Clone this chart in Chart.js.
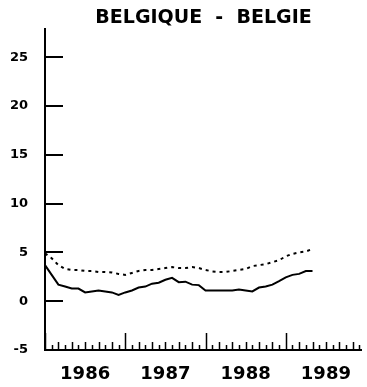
<!DOCTYPE html>
<html><head><meta charset="utf-8">
<script src="https://cdn.jsdelivr.net/npm/chart.js@4"></script>
<style>html,body{margin:0;padding:0;background:#fff}#wrap{width:367px;height:387px}</style>
</head><body><div id="wrap"><canvas id="c" width="367" height="387"></canvas></div>
<script>
const months = ['1986-01','1986-02','1986-03','1986-04','1986-05','1986-06','1986-07','1986-08','1986-09','1986-10','1986-11','1986-12',
'1987-01','1987-02','1987-03','1987-04','1987-05','1987-06','1987-07','1987-08','1987-09','1987-10','1987-11','1987-12',
'1988-01','1988-02','1988-03','1988-04','1988-05','1988-06','1988-07','1988-08','1988-09','1988-10','1988-11','1988-12',
'1989-01','1989-02','1989-03','1989-04','1989-05'];
const solidSeries = [3.7,2.7,1.7,1.5,1.3,1.3,0.9,1.0,1.1,1.0,0.9,0.65,0.9,1.1,1.4,1.5,1.8,1.9,2.2,2.4,1.95,2.0,1.7,1.65,1.1,1.1,1.1,1.1,1.1,1.2,1.1,1.0,1.4,1.5,1.7,2.05,2.45,2.7,2.8,3.1,3.1];
const dottedSeries = [4.9,4.4,3.7,3.3,3.2,3.2,3.1,3.1,3.0,3.0,2.95,2.8,2.7,2.9,3.1,3.2,3.2,3.3,3.4,3.5,3.4,3.4,3.5,3.4,3.2,3.06,3.0,3.0,3.1,3.2,3.3,3.6,3.7,3.8,4.0,4.2,4.6,4.85,5.0,5.1,5.35];
const yTicks = [-5,0,5,10,15,20,25];
const yearLabels = ['1986','1987','1988','1989'];
const titleText = 'BELGIQUE  -  BELGIE';

function toYear(s){ const p = s.split('-'); return +p[0] + (+p[1]-1)/12; }
const pts = arr => months.map((m,i)=>({x: toYear(m), y: arr[i]}));

const axisPlugin = {
  id: 'axesDraw',
  afterDatasetsDraw(chart){
    const {ctx, chartArea: a, scales: {x, y}} = chart;
    ctx.save();
    ctx.strokeStyle = '#000';
    ctx.lineWidth = 2;
    ctx.lineCap = 'butt';
    ctx.beginPath();
    ctx.moveTo(a.left, a.top); ctx.lineTo(a.left, a.bottom); ctx.lineTo(a.right, a.bottom);
    ctx.stroke();
    ctx.beginPath();
    yTicks.forEach(v => { if (v > y.min) { const py = Math.round(y.getPixelForValue(v)); ctx.moveTo(a.left, py); ctx.lineTo(a.left + 18, py); } });
    ctx.stroke();
    ctx.lineWidth = 1.5;
    ctx.beginPath();
    const start = Math.ceil(x.min*12 - 1e-6);
    for (let m = start; m/12 <= x.max + 1e-6; m++) {
      const px = Math.round(x.getPixelForValue(m/12)) + 0.5;
      const k = ((m % 12) + 12) % 12;
      const h = k === 0 ? 17 : (k % 2 === 1 ? 5 : 8);
      ctx.moveTo(px, a.bottom); ctx.lineTo(px, a.bottom - h);
    }
    ctx.stroke();
    ctx.restore();
  }
};

new Chart(document.getElementById('c'), {
  type: 'line',
  data: { datasets: [
    { data: pts(solidSeries), borderColor: '#000', borderWidth: 2, pointRadius: 0, tension: 0, fill: false },
    { data: pts(dottedSeries), borderColor: '#000', borderWidth: 2, borderDash: [3,4], pointRadius: 0, tension: 0, fill: false }
  ]},
  options: {
    responsive: false, animation: false, devicePixelRatio: 1,
    layout: { padding: { left: 0, right: 5, top: 0, bottom: 0 } },
    plugins: {
      legend: { display: false }, tooltip: { enabled: false },
      title: { display: true, text: titleText, fullSize: false, color: '#000',
        font: { family: 'DejaVu Sans', size: 19, weight: 'bold', lineHeight: 1.0 },
        padding: { top: 9, bottom: 0 } }
    },
    scales: {
      x: { type: 'linear', min: 1986, max: 1989.95,
        grid: { display: false, drawTicks: false }, border: { display: false },
        afterBuildTicks: s => { s.ticks = yearLabels.map(v => ({ value: +v + 0.5 })); },
        afterFit: s => { s.height = 37; },
        ticks: { color: '#000', padding: 14, autoSkip: false, maxRotation: 0,
          font: { family: 'DejaVu Sans', size: 18, weight: 'bold' },
          callback: v => String(Math.floor(v)) } },
      y: { type: 'linear', min: -5, max: 28,
        grid: { display: false, drawTicks: false }, border: { display: false },
        afterBuildTicks: s => { s.ticks = yTicks.map(v => ({ value: v })); },
        afterFit: s => { s.width = 45; },
        ticks: { color: '#000', padding: 17,
          font: { family: 'DejaVu Sans', size: 13, weight: 'bold' } } }
    }
  },
  plugins: [axisPlugin]
});
</script></body></html>
